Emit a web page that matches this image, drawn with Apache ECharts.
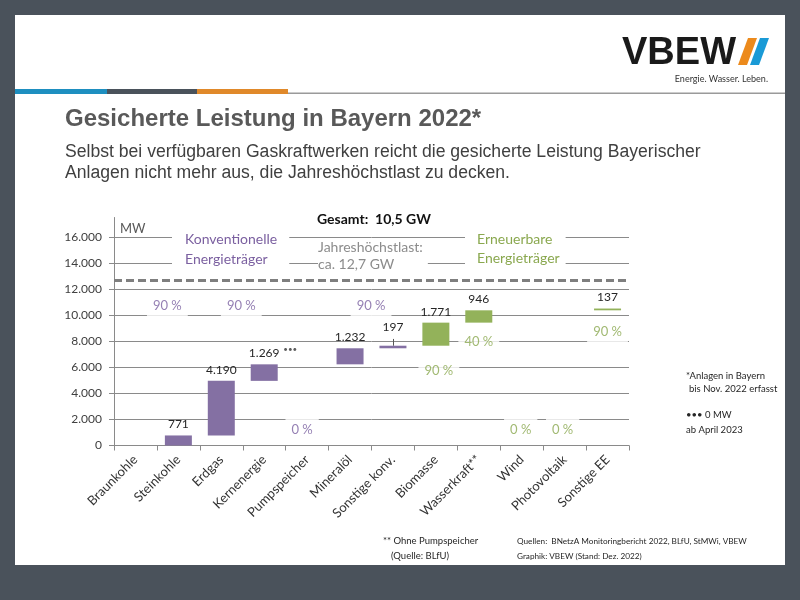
<!DOCTYPE html>
<html><head><meta charset="utf-8">
<script src="https://cdn.jsdelivr.net/npm/echarts@6/dist/echarts.min.js"></script>
<style>
html,body{margin:0;padding:0;background:#4a525b;}
#w{position:absolute;left:15px;top:15px;width:770px;height:550px;background:#fff;}
#c{position:absolute;left:0;top:0;width:800px;height:600px;}
</style></head>
<body><div id="w"></div><div id="c"></div>
<script>
// ---- data ----
const categories = ['Braunkohle','Steinkohle','Erdgas','Kernenergie','Pumpspeicher','Mineralöl','Sonstige konv.','Biomasse','Wasserkraft**','Wind','Photovoltaik','Sonstige EE'];
const capacityMW = [0, 771, 4190, 1269, 0, 1232, 197, 1771, 946, 0, 0, 137];
const group = ['K','K','K','K','K','K','K','E','E','E','E','E'];
const shareLabels = ['', '90 %', '90 %', '', '0 %', '90 %', '', '90 %', '40 %', '0 %', '0 %', '90 %'];
const yTickValues = [0, 2000, 4000, 6000, 8000, 10000, 12000, 14000, 16000];
const peakLoadMW = 12700;
const totalText = 'Gesamt:  10,5 GW';

// ---- layout (annotation placement, MW / px offsets) ----
const shareY = [null, 10700, 10700, null, 1190, 10700, null, 5720, 7940, 1190, 1190, 8710];
const shareDx = [0, -11, 20, 0, -5, 21, 0, 3, 0, -1, -2, 0];

const PURPLE = '#8470a3', GREEN = '#93b25a';
const PURPLE_T = '#7b60a0', GREEN_T = '#8aa84f';
const FONT = 'Lato';
const fmt = v => String(v).replace(/\B(?=(\d{3})+(?!\d))/g, '.');

// waterfall base
const base = [];
let acc = 0;
capacityMW.forEach(v => { base.push(acc); acc += v; });

const annData = [];
shareLabels.forEach((t, i) => {
  if (!t) return;
  annData.push({
    value: [i, shareY[i]],
    label: { formatter: t, offset: [shareDx[i], 0], color: group[i] === 'K' ? PURPLE_T : GREEN_T }
  });
});
annData.push({ value: [3, 7400], label: { formatter: '•••', offset: [26, 0], color: '#333', fontSize: 8, backgroundColor: 'transparent', padding: 0 } });

const chart = echarts.init(document.getElementById('c'), null, { renderer: 'canvas' });
const notes = { fontFamily: FONT, fontSize: 9.5, fill: '#262626' };
const notesSmall = { fontFamily: FONT, fontSize: 8.2, fill: '#262626' };

chart.setOption({
  animation: false,
  backgroundColor: 'transparent',
  grid: { left: 114, right: 171, top: 217.5, bottom: 154.5, containLabel: false, outerBoundsMode: 'none' },
  xAxis: {
    type: 'category', data: categories,
    axisLine: { lineStyle: { color: '#8a8a8a', width: 1 } },
    axisTick: { show: true, length: 5, lineStyle: { color: '#8a8a8a' } },
    axisLabel: { interval: 0, rotate: 45, margin: 12, fontFamily: FONT, fontSize: 13, color: '#333' }
  },
  yAxis: {
    type: 'value', min: 0, max: 17500, interval: 2000,
    axisLine: { show: true, lineStyle: { color: '#8a8a8a', width: 1 } },
    axisTick: { show: true, length: 5, lineStyle: { color: '#8a8a8a' }, customValues: yTickValues },
    axisLabel: { margin: 12, fontFamily: FONT, fontSize: 12, color: '#404040', formatter: v => fmt(v), customValues: yTickValues },
    splitLine: { show: true, lineStyle: { color: '#8a8a8a', width: 1 } }
  },
  series: [
    {
      type: 'bar', stack: 'w', data: base, barWidth: 27, silent: true,
      itemStyle: { color: 'transparent' },
      markLine: {
        silent: true, symbol: 'none', label: { show: false },
        lineStyle: { color: '#7f7f7f', width: 3, type: [8, 4] },
        data: [{ yAxis: peakLoadMW }]
      }
    },
    {
      type: 'bar', stack: 'w', barWidth: 27, silent: true,
      data: capacityMW.map((v, i) => ({
        value: v,
        itemStyle: { color: group[i] === 'K' ? PURPLE : GREEN },
        label: { show: v > 0, distance: i === 6 ? 13 : 5 }
      })),
      label: { position: 'top', color: '#262626', fontFamily: FONT, fontSize: 12, formatter: p => fmt(p.value) },
      markLine: {
        silent: true, symbol: 'none', label: { show: false },
        lineStyle: { color: '#555', width: 1, type: 'solid' },
        data: [[{ coord: [6, base[6] + capacityMW[6]] }, { coord: [6, base[6] + capacityMW[6] + 520] }]]
      }
    },
    {
      type: 'scatter', silent: true, symbolSize: 1, z: 5,
      itemStyle: { color: 'transparent' },
      label: { show: true, position: 'inside', fontFamily: FONT, fontSize: 13, backgroundColor: '#fff', padding: [5, 6, 5, 6] },
      data: annData
    }
  ],
  graphic: [
    // header stripes
    { type: 'rect', shape: { x: 15, y: 89, width: 92, height: 5 }, style: { fill: '#1e8fc0' }, z: 1 },
    { type: 'rect', shape: { x: 107, y: 89, width: 90, height: 5 }, style: { fill: '#4a525b' }, z: 1 },
    { type: 'rect', shape: { x: 197, y: 89, width: 91, height: 5 }, style: { fill: '#e0892a' }, z: 1 },
    { type: 'rect', shape: { x: 288, y: 92.5, width: 497, height: 1.5 }, style: { fill: '#9a9a9a' }, z: 1 },
    // logo
    { type: 'text', x: 622, y: 54, style: { text: 'VBEW', fontFamily: 'Liberation Sans', fontWeight: 'bold', fontSize: 38, fill: '#1a1a1a', verticalAlign: 'middle' }, z: 1 },
    { type: 'polygon', shape: { points: [[748, 38], [757, 38], [747, 65], [738, 65]] }, style: { fill: '#ec8a1c' }, z: 1 },
    { type: 'polygon', shape: { points: [[760, 38], [769, 38], [759, 65], [750, 65]] }, style: { fill: '#1a9ad6' }, z: 1 },
    { type: 'text', x: 768, y: 79, style: { text: 'Energie. Wasser. Leben.', fontFamily: FONT, fontSize: 9, fill: '#333', align: 'right', verticalAlign: 'middle' }, z: 1 },
    // titles
    { type: 'text', x: 65, y: 119, style: { text: 'Gesicherte Leistung in Bayern 2022*', fontFamily: 'Liberation Sans', fontWeight: 'bold', fontSize: 24, fill: '#595959', verticalAlign: 'middle' }, z: 1 },
    { type: 'text', x: 65, y: 152, style: { text: 'Selbst bei verfügbaren Gaskraftwerken reicht die gesicherte Leistung Bayerischer', fontFamily: 'Liberation Sans', fontSize: 17.6, fill: '#404040', verticalAlign: 'middle' }, z: 1 },
    { type: 'text', x: 65, y: 173, style: { text: 'Anlagen nicht mehr aus, die Jahreshöchstlast zu decken.', fontFamily: 'Liberation Sans', fontSize: 17.6, fill: '#404040', verticalAlign: 'middle' }, z: 1 },
    // chart annotations
    { type: 'text', x: 120, y: 229, style: { text: 'MW', fontFamily: FONT, fontSize: 13, fill: '#595959', verticalAlign: 'middle' }, z: 10 },
    { type: 'text', x: 317, y: 219, style: { text: totalText, fontFamily: FONT, fontWeight: 'bold', fontSize: 14, fill: '#111', verticalAlign: 'middle' }, z: 10 },
    { type: 'text', x: 172, y: 229, style: { text: 'Konventionelle\nEnergieträger', fontFamily: FONT, fontSize: 14, lineHeight: 20, fill: PURPLE_T, backgroundColor: '#fff', padding: [0, 12, 0, 13], verticalAlign: 'top' }, z: 10 },
    { type: 'text', x: 318, y: 239, style: { text: 'Jahreshöchstlast:\nca. 12,7 GW', fontFamily: FONT, fontSize: 14, lineHeight: 17, fill: '#8c8c8c', backgroundColor: '#fff', padding: [0, 5, 0, 0], verticalAlign: 'top' }, z: 10 },
    { type: 'text', x: 465, y: 226, style: { text: 'Erneuerbare\nEnergieträger', fontFamily: FONT, fontSize: 14, lineHeight: 19, fill: GREEN_T, backgroundColor: '#fff', padding: [4, 6, 8, 12], verticalAlign: 'top' }, z: 10 },
    // side notes
    { type: 'text', x: 686, y: 376, style: Object.assign({ text: '*Anlagen in Bayern', verticalAlign: 'middle' }, notes), z: 10 },
    { type: 'text', x: 689, y: 389, style: Object.assign({ text: 'bis Nov. 2022 erfasst', verticalAlign: 'middle' }, notes), z: 10 },
    { type: 'text', x: 686, y: 415, style: Object.assign({ text: '••• 0 MW', verticalAlign: 'middle' }, notes), z: 10 },
    { type: 'text', x: 686, y: 430, style: Object.assign({ text: 'ab April 2023', verticalAlign: 'middle' }, notes), z: 10 },
    // bottom notes
    { type: 'text', x: 383, y: 541, style: Object.assign({ text: '** Ohne Pumpspeicher', verticalAlign: 'middle' }, notes), z: 10 },
    { type: 'text', x: 391, y: 556, style: Object.assign({ text: '(Quelle: BLfU)', verticalAlign: 'middle' }, notes), z: 10 },
    { type: 'text', x: 517, y: 541, style: Object.assign({ text: 'Quellen:  BNetzA Monitoringbericht 2022, BLfU, StMWi, VBEW', verticalAlign: 'middle' }, notesSmall), z: 10 },
    { type: 'text', x: 517, y: 556, style: Object.assign({ text: 'Graphik: VBEW (Stand: Dez. 2022)', verticalAlign: 'middle' }, notesSmall), z: 10 }
  ]
});
</script></body></html>
